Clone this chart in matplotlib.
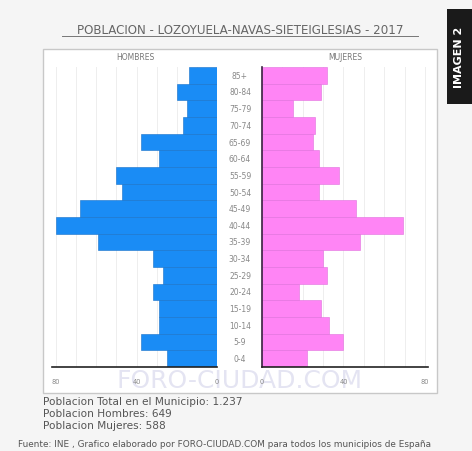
import matplotlib
matplotlib.use("Agg")
import matplotlib.pyplot as plt
from matplotlib.patches import Rectangle
from matplotlib.lines import Line2D

ages = ["0-4", "5-9", "10-14", "15-19", "20-24", "25-29", "30-34", "35-39", "40-44",
        "45-49", "50-54", "55-59", "60-64", "65-69", "70-74", "75-79", "80-84", "85+"]
hombres = [25, 38, 29, 29, 32, 27, 32, 59, 80, 68, 47, 50, 29, 38, 17, 15, 20, 14]
mujeres = [22, 40, 33, 29, 18, 32, 30, 48, 69, 46, 28, 38, 28, 25, 26, 15, 29, 32]
ticks = [0, 40, 80]
title = "POBLACION - LOZOYUELA-NAVAS-SIETEIGLESIAS - 2017"
info = ["Poblacion Total en el Municipio: 1.237",
        "Poblacion Hombres: 649",
        "Poblacion Mujeres: 588"]
footer = "Fuente: INE , Grafico elaborado por FORO-CIUDAD.COM para todos los municipios de España"

W, H = 472, 452
fig = plt.figure(figsize=(W / 100, H / 100), dpi=100)
fig.patch.set_facecolor("#f5f5f5")

def fx(x):
    return x / W

def fy(y):
    return 1 - y / H

# white box
fig.patches.append(Rectangle((fx(43), fy(394)), fx(437) - fx(43), fy(50) - fy(394),
                             transform=fig.transFigure, facecolor="white",
                             edgecolor="#c8c8c8", linewidth=1.0, zorder=-2))

# watermark
fig.text(fx(240), fy(381), "FORO-CIUDAD.COM", fontsize=18, color="#e4e4f2",
         ha="center", va="center", zorder=-1)

# title with underline
fig.text(fx(240), fy(30), title, fontsize=8.6, color="#666666", ha="center", va="center")
fig.lines.append(Line2D([fx(62), fx(418)], [fy(37), fy(37)], transform=fig.transFigure,
                        color="#777777", linewidth=0.7))

fig.text(fx(135), fy(58), "HOMBRES", fontsize=5.5, color="#777777", ha="center", va="center")
fig.text(fx(345), fy(58), "MUJERES", fontsize=5.5, color="#777777", ha="center", va="center")

ybot, ytop = 368, 68
axL = fig.add_axes([fx(52), fy(ybot), fx(217) - fx(52), fy(ytop) - fy(ybot)])
axR = fig.add_axes([fx(262), fy(ybot), fx(428) - fx(262), fy(ytop) - fy(ybot)])
for ax in (axL, axR):
    ax.set_zorder(2)
    ax.set_facecolor("none")
    for s in ax.spines.values():
        s.set_visible(False)
    ax.set_ylim(-0.5, len(ages) - 0.5)
    ax.set_yticks([])
    ax.spines["bottom"].set_visible(True)
    ax.spines["bottom"].set_color("#222222")
    ax.spines["bottom"].set_linewidth(1.2)
    ax.tick_params(axis="x", length=0, labelsize=4.8, labelcolor="#888888", pad=8)
    ax.set_xticks(ticks)
    for g in range(10, 90, 10):
        ax.axvline(g, color="#eeeeee", linewidth=0.7, zorder=0)

pos = list(range(len(ages)))
axL.barh(pos, hombres, height=1.0, color="#1a8cf5", edgecolor="#1670c8", linewidth=0.4, zorder=2)
axL.set_xlim(82, 0)
axR.barh(pos, mujeres, height=1.0, color="#ff85f5", edgecolor="#e070dd", linewidth=0.4, zorder=2)
axR.set_xlim(0, 81.5)
axR.spines["left"].set_visible(True)
axR.spines["left"].set_color("#3a2040")
axR.spines["left"].set_linewidth(1.2)

for i, a in enumerate(ages):
    ypix = ybot - (i + 0.5) * (ybot - ytop) / len(ages)
    fig.text(fx(240), fy(ypix), a, fontsize=5.5, color="#888888", ha="center", va="center")

for k, line in enumerate(info):
    fig.text(fx(43), fy(402 + 12 * k), line, fontsize=7.6, color="#555555", ha="left", va="center")
fig.text(fx(225), fy(445), footer, fontsize=6.4, color="#555555", ha="center", va="center")

# side tab
fig.patches.append(Rectangle((fx(447), fy(105)), fx(472) - fx(447), fy(10) - fy(105),
                             transform=fig.transFigure, facecolor="#1a1a1a", edgecolor="none"))
fig.text(fx(459.5), fy(57), "IMAGEN 2", fontsize=8, color="white", fontweight="bold",
         rotation=90, ha="center", va="center")

fig.savefig("out.png", dpi=100, facecolor=fig.get_facecolor())
